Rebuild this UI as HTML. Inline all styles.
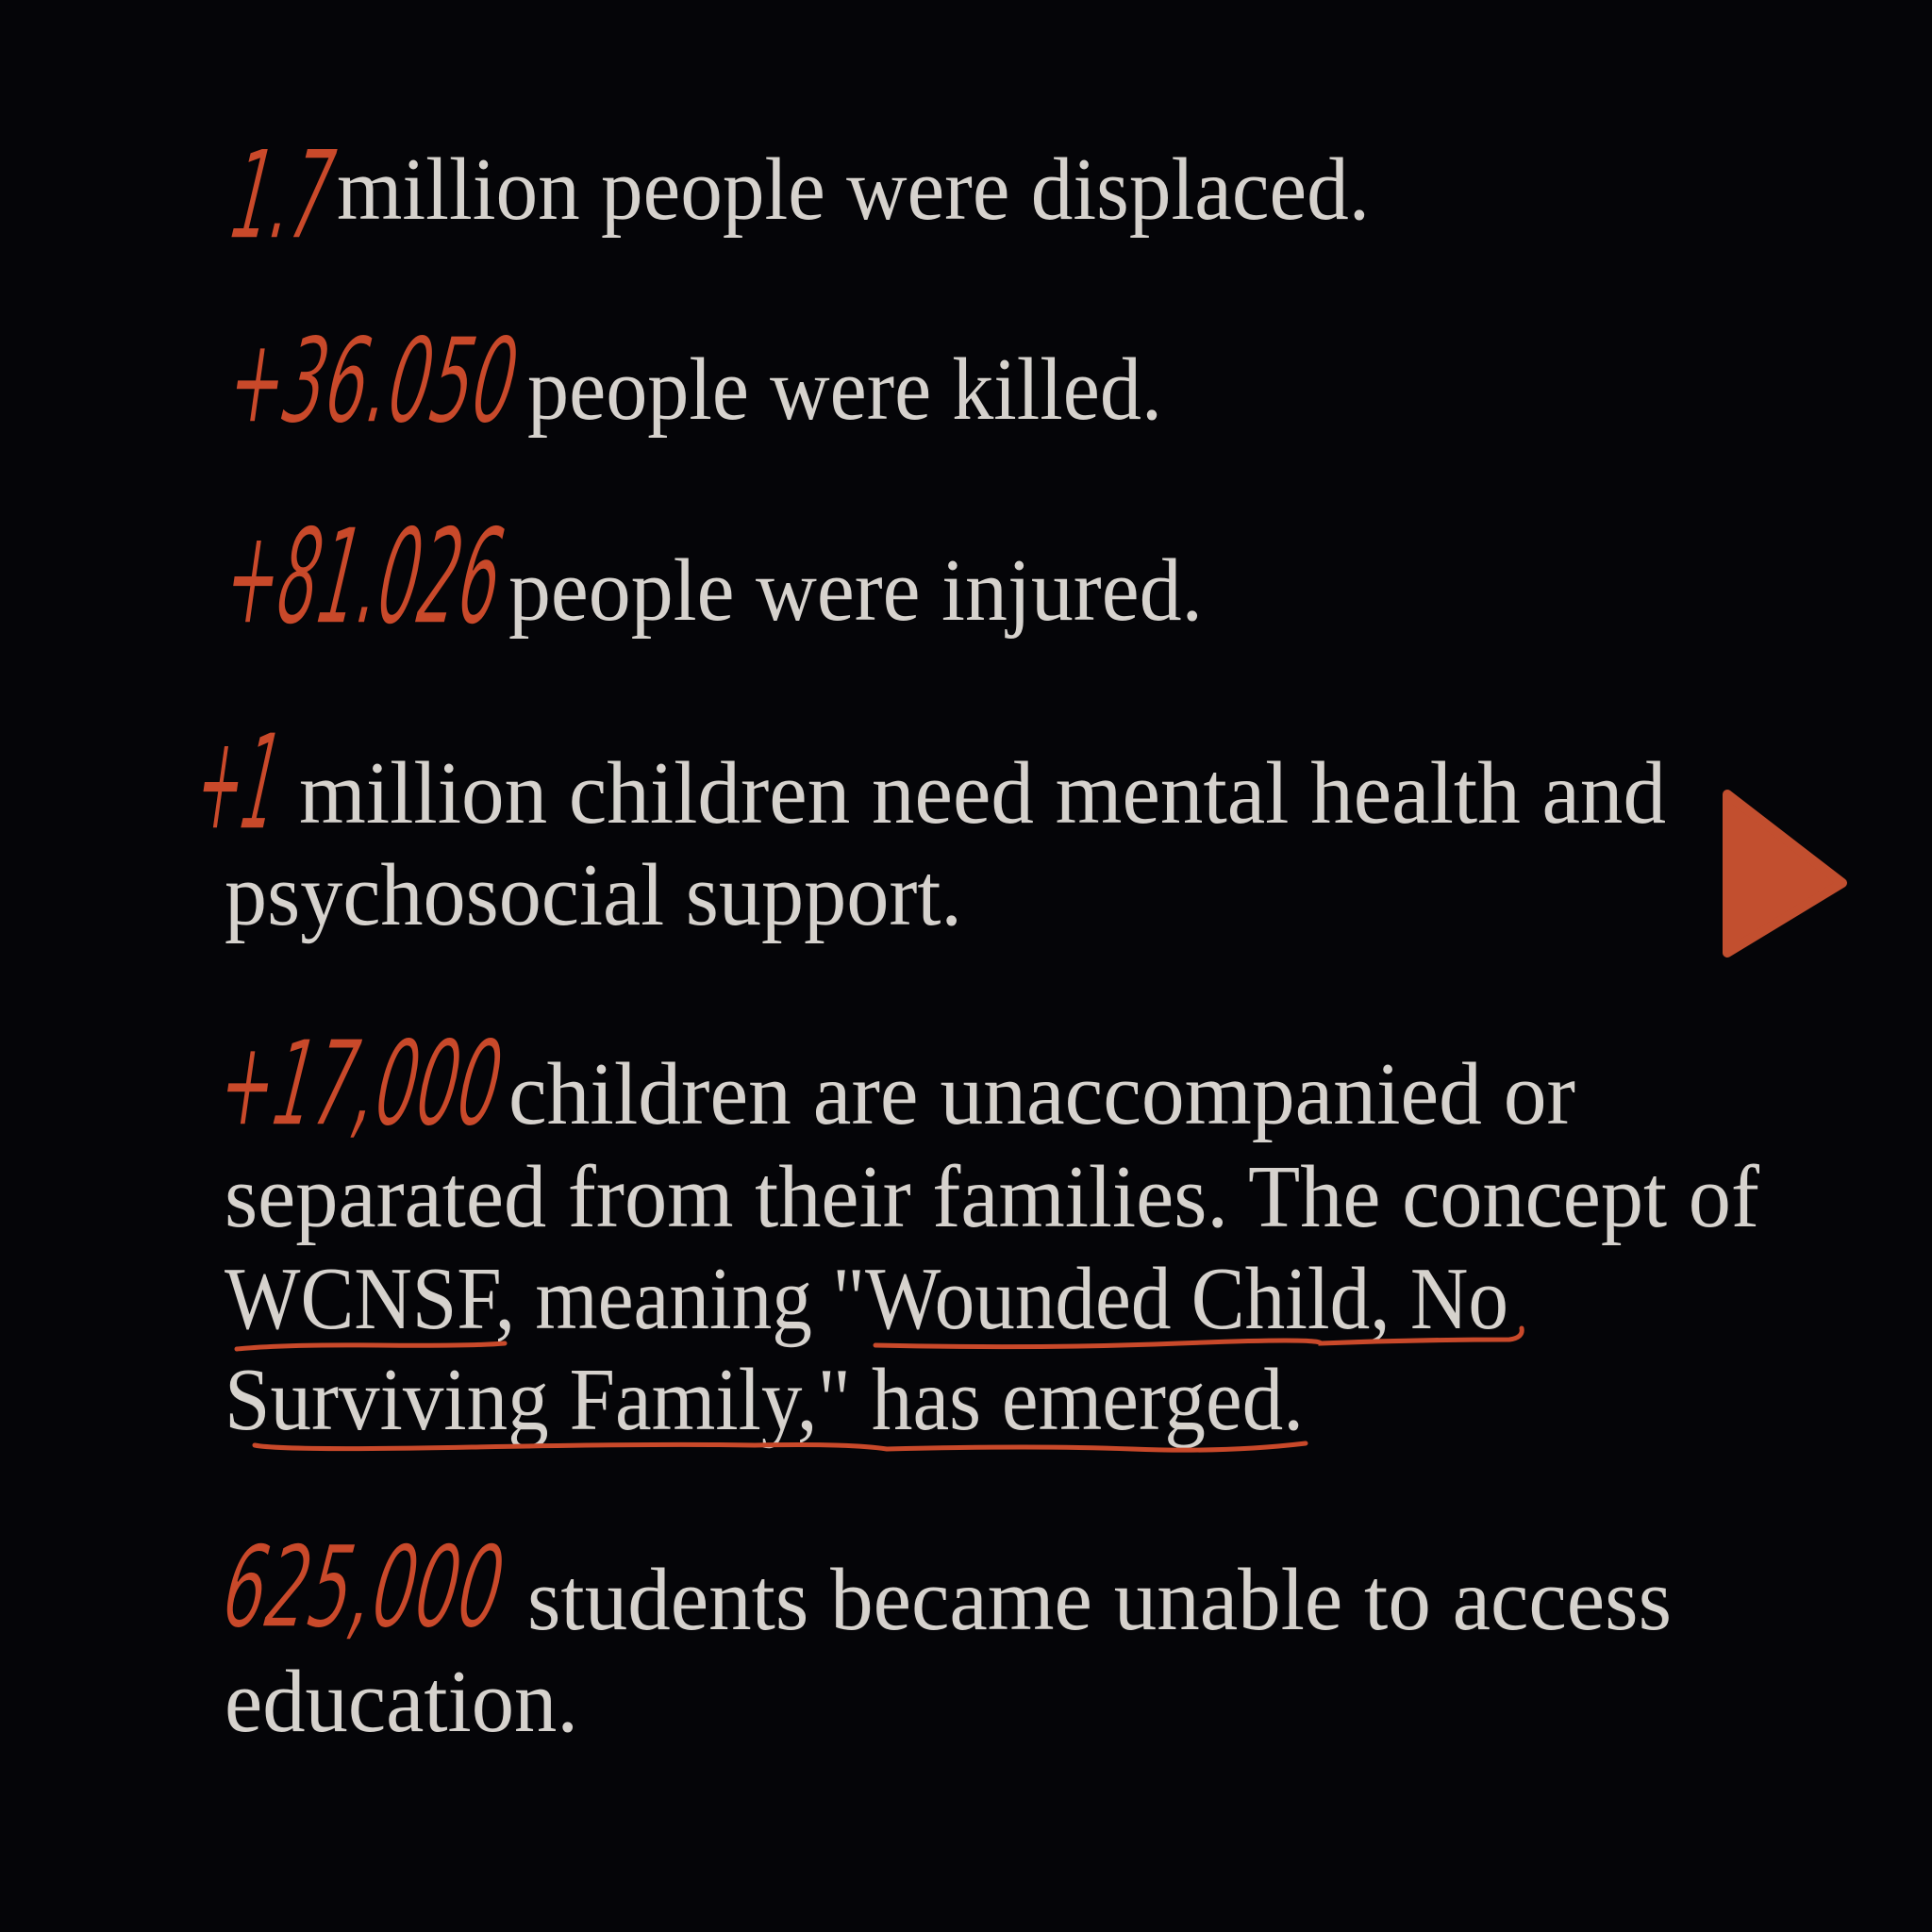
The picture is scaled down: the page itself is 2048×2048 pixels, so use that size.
<!DOCTYPE html>
<html><head><meta charset="utf-8"><style>
html,body{margin:0;padding:0;background:#050508;}
svg{display:block}
.t{font-family:"Liberation Serif",serif;font-size:94px;fill:#d6d2cd;}
.h{font-family:"DejaVu Sans Condensed","DejaVu Sans",sans-serif;font-style:italic;font-weight:300;fill:#c9492a;stroke:#050508;stroke-width:1.5px;}
</style></head><body>
<svg width="2048" height="2048" viewBox="0 0 2048 2048">
<rect width="2048" height="2048" fill="#050508"/>

<text class="h" x="242" y="252" font-size="130" textLength="104" lengthAdjust="spacingAndGlyphs" transform="skewX(-8) translate(35,0)">1.7</text>
<text class="t" x="357" y="232" textLength="1095" lengthAdjust="spacingAndGlyphs">million people were displaced.</text>

<text class="h" x="239" y="447" font-size="125" textLength="303" lengthAdjust="spacingAndGlyphs" transform="skewX(-8) translate(62,0)">+36.050</text>
<text class="t" x="559" y="444" textLength="673" lengthAdjust="spacingAndGlyphs">people were killed.</text>

<text class="h" x="235" y="660" font-size="140" textLength="290" lengthAdjust="spacingAndGlyphs" transform="skewX(-8) translate(92,0)">+81.026</text>
<text class="t" x="539" y="657" textLength="736" lengthAdjust="spacingAndGlyphs">people were injured.</text>

<text class="h" x="205" y="878" font-size="140" textLength="85" lengthAdjust="spacingAndGlyphs" transform="skewX(-8) translate(122,0)">+1</text>
<text class="t" x="317" y="872" textLength="1449" lengthAdjust="spacingAndGlyphs">million children need mental health and</text>
<text class="t" x="238" y="980" textLength="782" lengthAdjust="spacingAndGlyphs">psychosocial support.</text>

<polygon points="1831,842 1953,936 1831,1010" fill="#c24f2f" stroke="#c24f2f" stroke-width="10" stroke-linejoin="round"/>

<text class="h" x="229" y="1192" font-size="125" textLength="296" lengthAdjust="spacingAndGlyphs" transform="skewX(-8) translate(167,0)">+17,000</text>
<text class="t" x="539" y="1191" textLength="1131" lengthAdjust="spacingAndGlyphs">children are unaccompanied or</text>
<text class="t" x="238" y="1300" textLength="1627" lengthAdjust="spacingAndGlyphs">separated from their families. The concept of</text>
<text class="t" x="238" y="1408" textLength="1361" lengthAdjust="spacingAndGlyphs">WCNSF, meaning "Wounded Child, No</text>
<text class="t" x="238" y="1515" textLength="1144" lengthAdjust="spacingAndGlyphs">Surviving Family," has emerged.</text>

<g fill="none" stroke="#c9492a" stroke-width="5" stroke-linecap="round">
<path d="M251,1430 Q300,1425 400,1426 T535,1424"/>
<path d="M928,1426 Q1100,1430 1250,1424 T1400,1424 Q1500,1420 1600,1420 Q1615,1418 1613,1408"/>
<path d="M270,1532 Q300,1538 500,1534 T800,1532 Q900,1530 940,1536 Q1100,1532 1200,1536 T1384,1530"/>
</g>

<text class="h" x="235" y="1724" font-size="120" textLength="294" lengthAdjust="spacingAndGlyphs" transform="skewX(-8) translate(240,0)">625,000</text>
<text class="t" x="559" y="1727" textLength="1213" lengthAdjust="spacingAndGlyphs">students became unable to access</text>
<text class="t" x="238" y="1835" textLength="375" lengthAdjust="spacingAndGlyphs">education.</text>
</svg>
</body></html>
